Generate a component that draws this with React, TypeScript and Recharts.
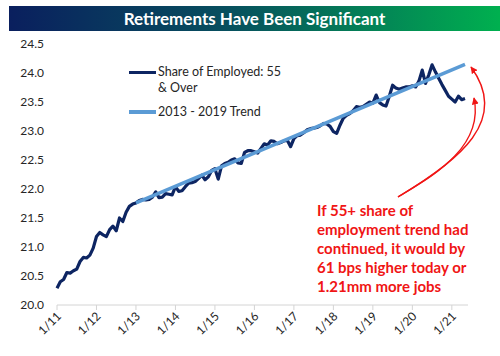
import React from 'react';
import { LineChart, Line, XAxis, YAxis } from 'recharts';

// 55+ share of employment, monthly from 1/11 to 5/21
const share: number[] = [
  20.29, 20.40, 20.44, 20.56, 20.55, 20.59, 20.62, 20.75, 20.82, 20.81, 20.86, 20.98,
  21.18, 21.25, 21.21, 21.18, 21.30, 21.36, 21.28, 21.50, 21.44, 21.60, 21.70, 21.74,
  21.76, 21.80, 21.82, 21.81, 21.82, 21.86, 21.95, 21.85, 21.86, 21.92, 21.91, 21.90,
  22.04, 21.96, 21.97, 22.04, 22.10, 22.11, 22.13, 22.18, 22.24, 22.16, 22.21, 22.32,
  22.35, 22.17, 22.40, 22.44, 22.46, 22.50, 22.52, 22.45, 22.44, 22.63, 22.66, 22.66,
  22.64, 22.62, 22.70, 22.78, 22.76, 22.83, 22.82, 22.78, 22.80, 22.83, 22.84, 22.73,
  22.87, 22.92, 22.93, 22.97, 23.02, 23.04, 23.05, 23.06, 23.09, 23.13, 23.12, 23.08,
  22.99, 22.96, 23.10, 23.22, 23.27, 23.30, 23.35, 23.42, 23.41, 23.42, 23.46, 23.50,
  23.48, 23.62, 23.49, 23.45, 23.43, 23.60, 23.79, 23.74, 23.72, 23.74, 23.76, 23.76,
  23.78, 23.76, 23.86, 24.05, 23.82, 23.97, 24.14, 24.02, 23.91, 23.80, 23.70, 23.60,
  23.55, 23.50, 23.60, 23.54, 23.56,
];

// 2013 - 2019 trend, drawn between its two end points
const trendStart = { month: '1/13', value: 21.76 };
const trendEnd = { month: '5/21', value: 24.15 };

const yTicks = [20, 20.5, 21, 21.5, 22, 22.5, 23, 23.5, 24, 24.5];

const noteLines = [
  'If 55+ share of',
  'employment trend had',
  'continued, it would by',
  '61 bps higher today or',
  '1.21mm more jobs',
];

const months = share.map((_, i) => `${(i % 12) + 1}/${11 + Math.floor(i / 12)}`);

const data = months.map((month, i) => ({
  month,
  share: share[i],
  trend: month === trendStart.month ? trendStart.value : month === trendEnd.month ? trendEnd.value : null,
}));

const NAVY = '#0d2562';
const LIGHT = '#5b9bd5';
const RED = '#f01515';
const FONT = 'Lato, "Open Sans", sans-serif';

const XTick = (props: any) => {
  const { x, y, payload } = props;
  return (
    <g transform={`translate(${x + 2},${y + 1})`}>
      <text x={0} y={0} dy="0.35em" textAnchor="end" transform="rotate(-45)" fill="#262626" fontSize={12} fontFamily={FONT}>
        {payload.value}
      </text>
    </g>
  );
};

export default function App() {
  return (
    <div style={{ position: 'absolute', left: 0, top: 0, width: 500, height: 356, background: '#fff', fontFamily: FONT }}>
      <div
        style={{
          position: 'absolute', left: 9, top: 6, width: 491, height: 25,
          background: 'linear-gradient(90deg, #0a1f5e 0%, #07505e 45%, #00b04f 100%)',
          color: '#fff', fontWeight: 700, fontSize: 17, lineHeight: '25px', textAlign: 'center',
        }}
      >
        Retirements Have Been Significant
      </div>

      <div style={{ position: 'absolute', left: 0, top: 0 }}>
        <LineChart width={500} height={356} data={data} margin={{ top: 44, right: 32, bottom: 11, left: 0 }}>
          <XAxis
            dataKey="month"
            scale="point"
            interval={11}
            padding={{ left: 0, right: 3 }}
            axisLine={{ stroke: '#d4d4d4' }}
            tickLine={{ stroke: '#d4d4d4' }}
            tickSize={5}
            tickMargin={3}
            height={40}
            tick={<XTick />}
          />
          <YAxis
            domain={[20, 24.5]}
            ticks={yTicks}
            width={57}
            axisLine={false}
            tickLine={false}
            tickSize={6}
            tickMargin={7}
            tickFormatter={(v: number) => v.toFixed(1)}
            tick={{ fill: '#262626', fontSize: 12, fontFamily: FONT }}
          />
          <Line dataKey="share" stroke={NAVY} strokeWidth={3.2} dot={false} isAnimationActive={false} strokeLinejoin="round" />
          <Line dataKey="trend" stroke={LIGHT} strokeWidth={3.5} dot={false} connectNulls isAnimationActive={false} />
        </LineChart>
      </div>

      {/* legend */}
      <div style={{ position: 'absolute', left: 129, top: 64, fontSize: 12.5, color: '#262626', lineHeight: '16px' }}>
        <div style={{ display: 'flex', alignItems: 'flex-start' }}>
          <span style={{ width: 27, height: 3, background: NAVY, marginTop: 7, marginRight: 2 }} />
          <span>Share of Employed: 55<br />&amp; Over</span>
        </div>
        <div style={{ display: 'flex', alignItems: 'flex-start', marginTop: 8 }}>
          <span style={{ width: 27, height: 4, background: LIGHT, marginTop: 6, marginRight: 2 }} />
          <span>2013 - 2019 Trend</span>
        </div>
      </div>

      <svg width={500} height={356} style={{ position: 'absolute', left: 0, top: 0, pointerEvents: 'none' }}>
        <defs>
          <marker id="redHead" viewBox="0 0 10 10" refX="9" refY="5" markerWidth="7" markerHeight="7" orient="auto" markerUnits="userSpaceOnUse">
            <path d="M0,0 L10,5 L0,10 z" fill={RED} />
          </marker>
        </defs>
        <path d="M398 197 C 460 160, 510 120, 471 67" fill="none" stroke={RED} strokeWidth={1.4} markerEnd="url(#redHead)" />
        <path d="M398 197 C 425 180, 485 150, 474 98" fill="none" stroke={RED} strokeWidth={1.4} markerEnd="url(#redHead)" />
      </svg>

      <div style={{ position: 'absolute', left: 317, top: 201, color: RED, fontWeight: 700, fontSize: 15, lineHeight: '19px', whiteSpace: 'nowrap' }}>
        {noteLines.map((l) => (
          <div key={l}>{l}</div>
        ))}
      </div>
    </div>
  );
}
